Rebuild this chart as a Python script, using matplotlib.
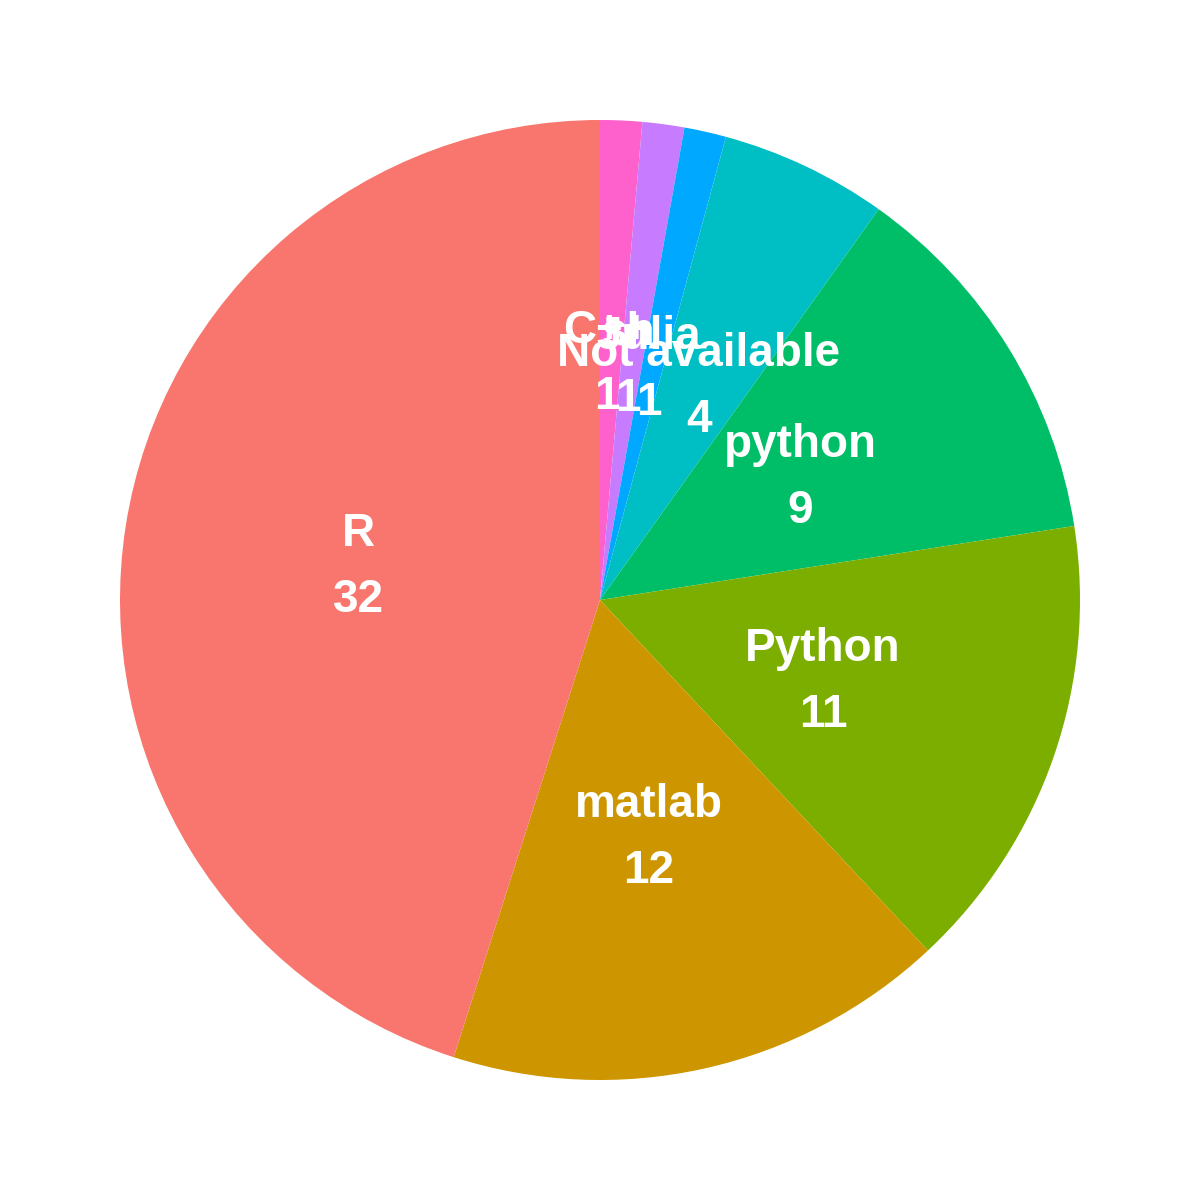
import matplotlib
matplotlib.use("Agg")
import matplotlib.pyplot as plt
import matplotlib.transforms as mtransforms

# slices in clockwise order from 12 o'clock
languages = ["C++", "sh", "Julia", "Not available", "python", "Python", "matlab", "R"]
counts = [1, 1, 1, 4, 9, 11, 12, 32]
colors = ["#FF61CC", "#C77CFF", "#00A9FF", "#00BFC4", "#00BE67", "#7CAE00", "#CD9600", "#F8766D"]

labels = iter(f"{lang}\n{n}" for lang, n in zip(languages, counts))

fig = plt.figure(figsize=(12, 12), dpi=100)
ax = fig.add_axes([0, 0, 1, 1])
wedges, texts, autotexts = ax.pie(
    counts, colors=colors, startangle=90, counterclock=False,
    autopct=lambda pct: next(labels), pctdistance=0.5, radius=1,
    wedgeprops=dict(linewidth=0),
    textprops=dict(color="white", fontsize=33, fontweight="bold",
                   family="Liberation Sans", linespacing=1.65),
)
# small nudge so the labels sit like the ggplot text
nudge = mtransforms.ScaledTranslation(-4 / 100, -4 / 100, fig.dpi_scale_trans)
for t in autotexts:
    t.set_ha("center")
    t.set_va("center")
    t.set_transform(t.get_transform() + nudge)

ax.set_xlim(-1.25, 1.25)
ax.set_ylim(-1.25, 1.25)
ax.set_aspect("equal")
ax.axis("off")
fig.savefig("out.png", dpi=100)
